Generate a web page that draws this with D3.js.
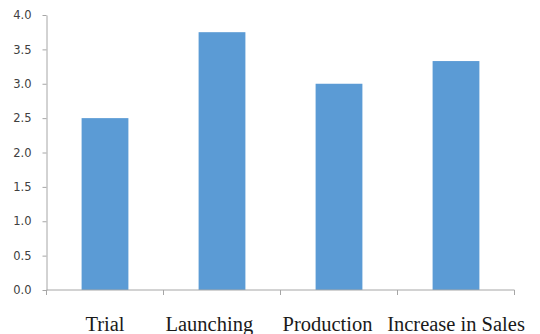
<!DOCTYPE html>
<html><head><meta charset="utf-8">
<script src="https://cdn.jsdelivr.net/npm/d3@7"></script>
<style>body{margin:0;background:#fff}svg{display:block}</style>
</head><body>
<script>
const categories = ["Trial", "Launching", "Production", "Increase in Sales"];
const values = [2.5, 3.75, 3.0, 3.33];
const yTicks = [0, 0.5, 1, 1.5, 2, 2.5, 3, 3.5, 4];

const W = 540, H = 334;
const m = {left: 46.5, right: 25.5, top: 15, bottom: 44};
const svg = d3.select("body").append("svg").attr("width", W).attr("height", H);
const x = d3.scaleBand().domain(categories).range([m.left, W - m.right]).paddingInner(0.6).paddingOuter(0.3);
const xb = d3.scaleBand().domain(categories).range([m.left, W - m.right]);
const y = d3.scaleLinear().domain([0, 4]).range([H - m.bottom, m.top]);

svg.selectAll("rect.bar").data(values).enter().append("rect")
  .attr("x", (d, i) => x(categories[i]))
  .attr("width", x.bandwidth())
  .attr("y", d => y(d))
  .attr("height", d => y(0) - y(d))
  .attr("fill", "#5b9bd5");

const gy = svg.append("g").attr("transform", `translate(${m.left},0)`)
  .call(d3.axisLeft(y).tickValues(yTicks).tickFormat(d3.format(".1f")).tickSizeInner(4).tickSizeOuter(0).tickPadding(11));
gy.select(".domain").attr("stroke", "#a6a6a6");
gy.selectAll(".tick line").attr("stroke", "#a6a6a6");
gy.selectAll("text").attr("fill", "#404040").style("font-family", "'DejaVu Sans', Verdana, sans-serif").style("font-size", "11.5px");

const gx = svg.append("g").attr("transform", `translate(0,${y(0)})`);
gx.append("line").attr("x1", m.left).attr("x2", W - m.right).attr("stroke", "#a6a6a6");
const bounds = categories.map(c => xb(c)).concat([W - m.right]);
gx.selectAll("line.tk").data(bounds).enter().append("line")
  .attr("x1", d => d).attr("x2", d => d).attr("y1", 0).attr("y2", 5).attr("stroke", "#a6a6a6");
const labels = gx.selectAll("text").data(categories).enter().append("text")
  .attr("x", d => xb(d) + xb.bandwidth() / 2)
  .attr("y", 41)
  .attr("text-anchor", "middle")
  .style("font-family", "'Liberation Serif', 'Times New Roman', serif")
  .style("font-size", "20.5px")
  .attr("fill", "#1a1a1a")
  .text(d => d);
// Excel-like: medium-length labels sit at the left of their category box
labels.each(function(d) {
  const w = this.getComputedTextLength();
  if (w > xb.bandwidth() * 0.5 && w < xb.bandwidth()) {
    d3.select(this).attr("text-anchor", "start").attr("x", xb(d) + 2);
  }
});
</script>
</body></html>
